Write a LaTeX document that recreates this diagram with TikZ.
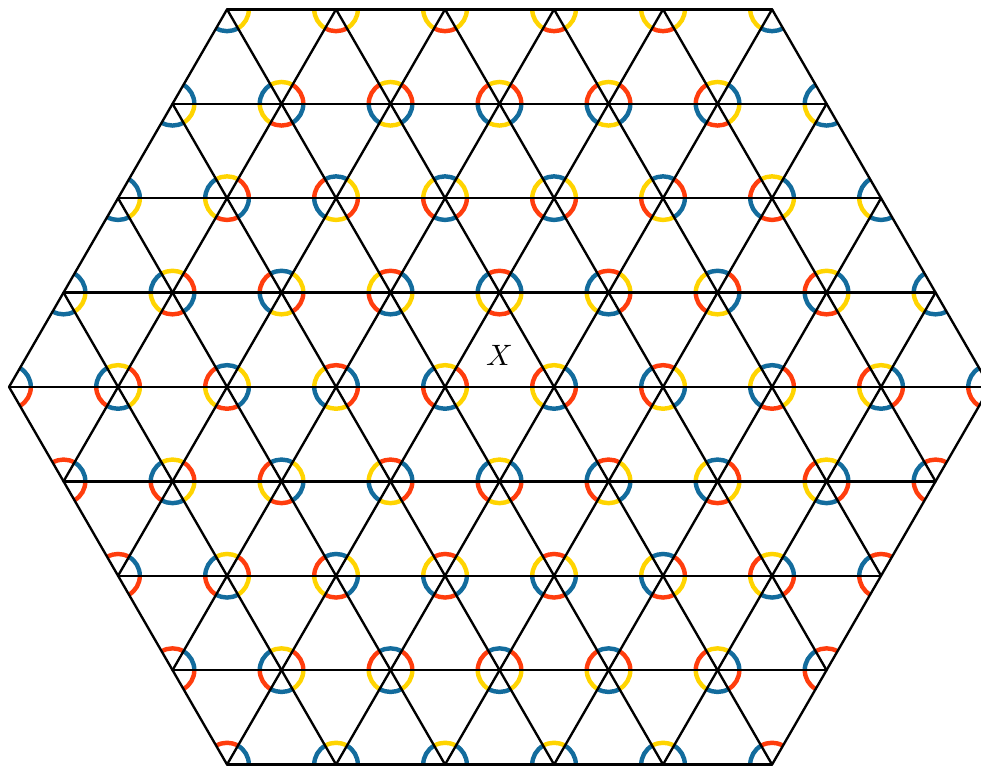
\documentclass[tikz,border=0pt]{standalone}
\usepackage{tikz}
\definecolor{colB}{HTML}{136C9D}
\definecolor{colR}{HTML}{FF3D0D}
\definecolor{colY}{HTML}{FFD400}
\tikzset{
  lattice_line/.style = {black, thick, line cap=round, line join=round},
  corner_arc/.style = {line width=1.5pt},% arc de couleur dans un coin
  label_node/.style = {inner sep=0pt, font=\normalsize}
}
\newcommand{\arcrad}{0.2}
% #1 bande (ligne du haut), #2 premiere position, #3 couleurs des triangles
\newcommand{\bandarcs}[3]{%
  \foreach \c [count=\i from 0] in {#3}{
    \pgfmathtruncatemacro\p{#2+\i}
    \pgfmathtruncatemacro\pl{\p-1}
    \pgfmathtruncatemacro\pr{\p+1}
    \pgfmathtruncatemacro\rb{#1+1}
    \pgfmathtruncatemacro\tpar{mod(\p+#1,2)}
    \ifnum\tpar=0
      \draw[corner_arc, draw=col\c] (v-#1-\p) ++(240:\arcrad) arc[start angle=240, end angle=300, radius=\arcrad];
      \draw[corner_arc, draw=col\c] (v-\rb-\pl) ++(0:\arcrad) arc[start angle=0, end angle=60, radius=\arcrad];
      \draw[corner_arc, draw=col\c] (v-\rb-\pr) ++(120:\arcrad) arc[start angle=120, end angle=180, radius=\arcrad];
    \else
      \draw[corner_arc, draw=col\c] (v-#1-\pl) ++(300:\arcrad) arc[start angle=300, end angle=360, radius=\arcrad];
      \draw[corner_arc, draw=col\c] (v-#1-\pr) ++(180:\arcrad) arc[start angle=180, end angle=240, radius=\arcrad];
      \draw[corner_arc, draw=col\c] (v-\rb-\p) ++(60:\arcrad) arc[start angle=60, end angle=120, radius=\arcrad];
    \fi
  }%
}

\begin{document}
\begin{tikzpicture}[x=1.3cm, y=1.3cm]
    \useasboundingbox (-0.083,-3.477) rectangle (8.917,3.55);
    % sommets du reseau
    \foreach \r in {0,...,8}{
      \pgfmathtruncatemacro\hmin{abs(\r-4)}
      \pgfmathtruncatemacro\hnext{\hmin+2}
      \pgfmathtruncatemacro\hmax{18-\hmin}
      \foreach \h in {\hmin,\hnext,...,\hmax}
        \coordinate (v-\r-\h) at ({0.5*\h},{(4-\r)*0.8660254});
    }
    % arcs colores
    \bandarcs{0}{4}{B,Y,R,Y,R,Y,R,Y,R,Y,B}
    \bandarcs{1}{3}{B,Y,R,B,Y,B,Y,B,Y,B,R,Y,B}
    \bandarcs{2}{2}{B,Y,R,B,Y,R,B,R,B,R,Y,B,R,Y,B}
    \bandarcs{3}{1}{B,Y,R,B,Y,R,B,Y,R,Y,B,R,Y,B,R,Y,B}
    \bandarcs{4}{1}{R,B,Y,R,B,Y,R,B,Y,B,R,Y,B,R,Y,B,R}
    \bandarcs{5}{2}{R,B,Y,R,B,Y,R,Y,R,Y,B,R,Y,B,R}
    \bandarcs{6}{3}{R,B,Y,R,B,R,B,R,B,R,Y,B,R}
    \bandarcs{7}{4}{R,B,Y,B,Y,B,Y,B,Y,B,R}
    % lignes horizontales
    \foreach \r in {0,...,8}{
      \pgfmathtruncatemacro\hmin{abs(\r-4)}
      \pgfmathtruncatemacro\hmax{18-\hmin}
      \draw[lattice_line] (v-\r-\hmin) -- (v-\r-\hmax);
    }
    % diagonales montantes
    \foreach \k in {4,6,...,22}{
      \pgfmathtruncatemacro\ra{max(0,(\k-14)/2)}
      \pgfmathtruncatemacro\rb{min(8,(\k+4)/2)}
      \pgfmathtruncatemacro\ha{\k-\ra}
      \pgfmathtruncatemacro\hb{\k-\rb}
      \draw[lattice_line] (v-\ra-\ha) -- (v-\rb-\hb);
    }
    % diagonales descendantes
    \foreach \m in {-4,-2,...,14}{
      \pgfmathtruncatemacro\ra{max(0,(4-\m)/2)}
      \pgfmathtruncatemacro\rb{min(8,(22-\m)/2)}
      \pgfmathtruncatemacro\ha{\m+\ra}
      \pgfmathtruncatemacro\hb{\m+\rb}
      \draw[lattice_line] (v-\ra-\ha) -- (v-\rb-\hb);
    }
    \node[label_node] (lblX) at (barycentric cs:v-3-9=1,v-4-8=1,v-4-10=1) {$X$};
\end{tikzpicture}
\end{document}
